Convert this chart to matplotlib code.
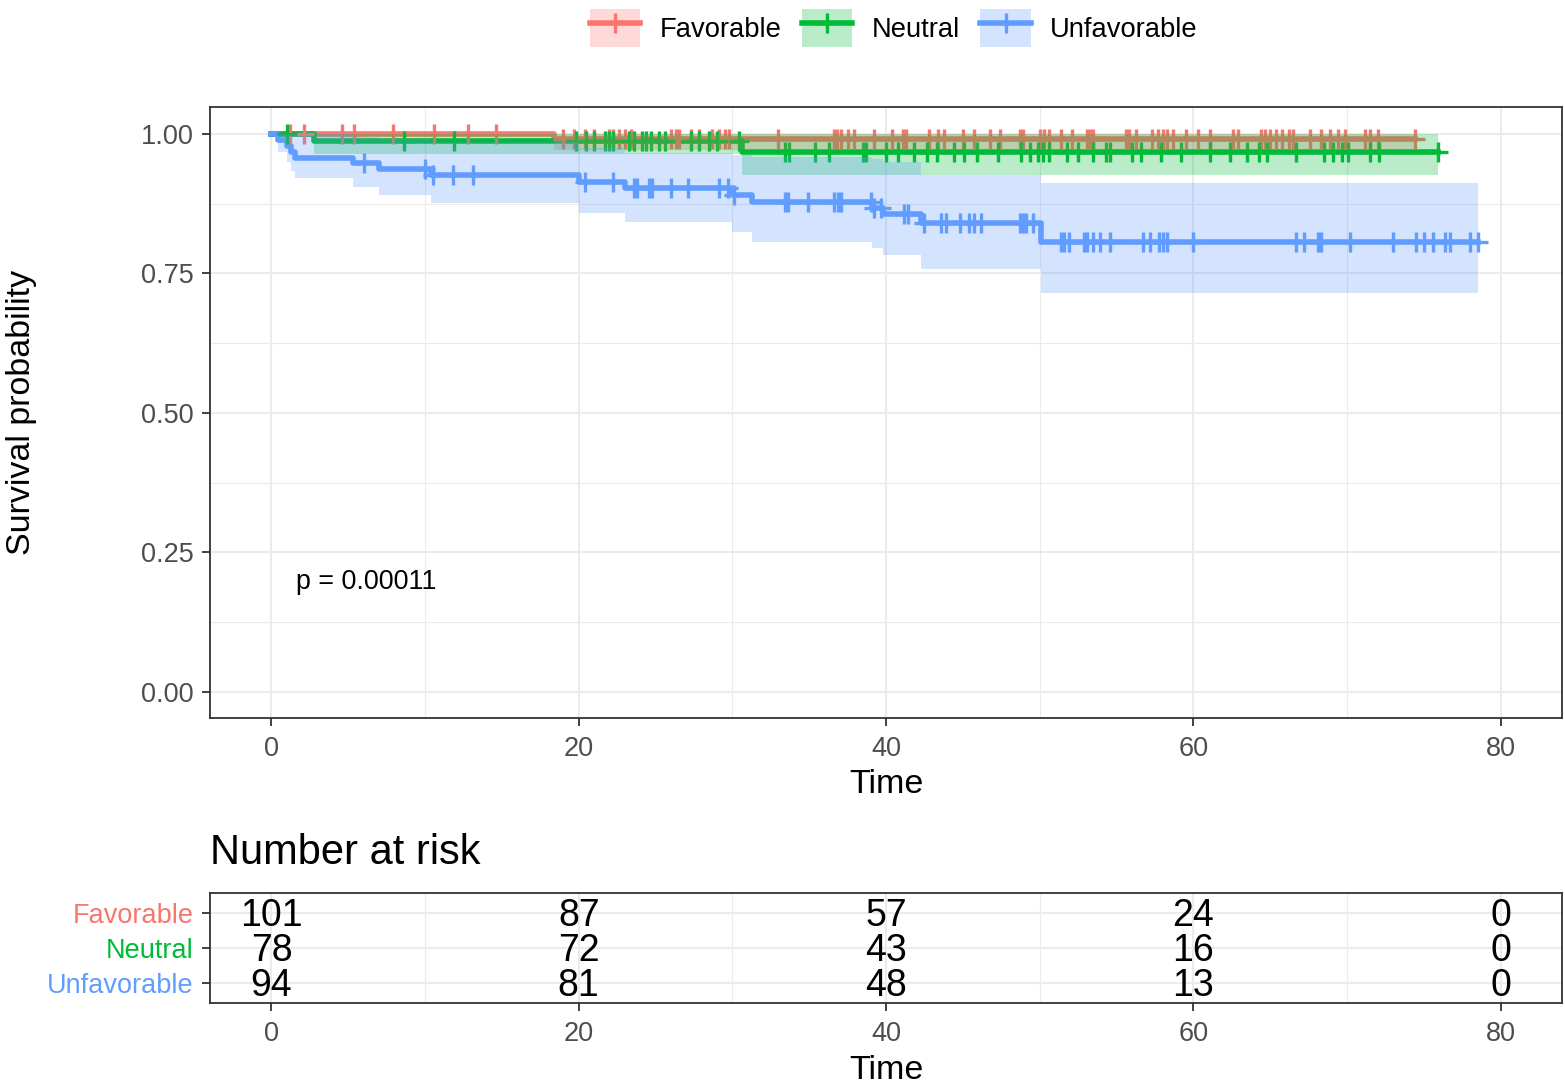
import numpy as np
import matplotlib
matplotlib.use("Agg")
import matplotlib.pyplot as plt
import matplotlib.transforms as mtransforms
from matplotlib.patches import Patch
from matplotlib.lines import Line2D
from matplotlib.legend_handler import HandlerTuple

plt.rcParams['font.family'] = ['Liberation Sans', 'DejaVu Sans']

groups = ["Favorable", "Neutral", "Unfavorable"]
colors = ["#F8766D", "#00BA38", "#619CFF"]

# step curves (time of each step, survival after it, CI bounds)
fav_t = [0, 18.4, 74.4]
fav_s = [1.0, 0.990, 0.990]
fav_lo = [1.0, 0.971, 0.971]
fav_hi = [1.0, 1.0, 1.0]

neu_t = [0, 2.8, 30.6, 75.9]
neu_s = [1.0, 0.987, 0.968, 0.968]
neu_lo = [1.0, 0.964, 0.927, 0.927]
neu_hi = [1.0, 1.0, 1.0, 1.0]

unf_t = [0, 0.4, 1.0, 1.3, 1.5, 5.3, 7.0, 10.4, 20.0, 23.0, 30.0, 31.3,
         39.1, 39.8, 42.3, 50.1, 78.5]
unf_s = [1.0, 0.989, 0.979, 0.968, 0.957, 0.947, 0.936, 0.926, 0.914, 0.903,
         0.891, 0.877, 0.867, 0.857, 0.840, 0.806, 0.806]
unf_lo = [1.0, 0.968, 0.950, 0.934, 0.921, 0.905, 0.891, 0.876, 0.858, 0.842,
          0.824, 0.806, 0.795, 0.783, 0.758, 0.715, 0.715]
unf_hi = [1.0, 1.0, 1.0, 1.0, 0.999, 0.995, 0.990, 0.985, 0.975, 0.966,
          0.962, 0.958, 0.954, 0.950, 0.927, 0.912, 0.912]

# censoring times
fav_cens = [1.2, 2.1, 4.6, 5.4, 7.9, 10.6, 12.8, 14.6, 19.0, 19.7, 20.4, 21.0,
            22.0, 22.2, 22.6, 23.0, 23.4, 26.0, 26.3, 26.5, 27.3, 27.8, 28.7,
            29.1, 29.5, 29.8, 33.0, 36.6, 36.8, 37.1, 37.5, 37.9, 39.2, 40.4,
            41.1, 41.3, 42.8, 43.4, 43.8, 45.0, 45.7, 46.8, 47.4, 48.7, 48.9,
            50.0, 50.3, 50.6, 51.4, 52.1, 53.1, 53.3, 53.5, 55.6, 55.8, 56.3,
            57.3, 57.7, 58.0, 58.3, 58.7, 59.5, 60.3, 61.1, 62.6, 62.9, 64.4,
            64.7, 65.0, 65.4, 65.8, 66.2, 66.5, 67.6, 68.3, 68.9, 69.4, 69.9,
            71.2, 71.5, 72.0, 74.4]
neu_cens = [1.0, 8.6, 11.9, 19.8, 20.5, 21.0, 21.7, 22.0, 22.2, 23.3, 23.6,
            24.1, 24.4, 24.7, 25.2, 25.6, 27.3, 27.8, 28.5, 29.0, 30.4, 33.4,
            33.7, 35.4, 36.3, 38.5, 38.7, 40.0, 40.8, 41.8, 42.7, 43.3, 44.4,
            45.1, 45.9, 47.3, 48.8, 49.4, 49.9, 50.2, 50.6, 51.8, 52.5, 53.5,
            54.3, 54.6, 56.0, 56.6, 57.9, 59.2, 61.1, 62.4, 63.5, 64.3, 64.8,
            66.7, 68.5, 69.1, 69.7, 70.1, 71.5, 72.1, 75.9]
unf_cens = [6.0, 10.0, 10.5, 11.8, 13.1, 20.4, 22.2, 23.6, 23.8, 24.6, 24.8,
            26.0, 27.1, 29.1, 29.7, 30.1, 33.4, 33.6, 34.9, 36.6, 36.9, 37.1,
            39.0, 39.2, 39.7, 41.2, 41.4, 42.5, 43.6, 43.9, 44.8, 45.4, 45.7,
            46.2, 48.7, 48.9, 49.1, 49.6, 51.4, 51.6, 51.9, 52.9, 53.1, 53.5,
            53.9, 54.6, 56.7, 57.2, 57.8, 58.0, 58.3, 60.0, 66.7, 67.2, 68.1,
            68.3, 70.2, 73.0, 74.5, 75.0, 75.6, 76.4, 76.7, 78.0, 78.5]

risk_times = [0, 20, 40, 60, 80]
fav_risk = [101, 87, 57, 24, 0]
neu_risk = [78, 72, 43, 16, 0]
unf_risk = [94, 81, 48, 13, 0]

curves = [
    (fav_t, fav_s, fav_lo, fav_hi, fav_cens),
    (neu_t, neu_s, neu_lo, neu_hi, neu_cens),
    (unf_t, unf_s, unf_lo, unf_hi, unf_cens),
]
risks = [fav_risk, neu_risk, unf_risk]

W, H = 1565, 1084
fig = plt.figure(figsize=(W / 100, H / 100), dpi=100)
ax = fig.add_axes([210 / W, 1 - 718 / H, 1352 / W, 611 / H])
axr = fig.add_axes([210 / W, 1 - 1003 / H, 1352 / W, 110 / H])

grid_col = "#EBEBEB"
tick_col = "#4D4D4D"
alpha = 0.27
lw = 4.0

for a in (ax, axr):
    for s in a.spines.values():
        s.set_color("#333333")
        s.set_linewidth(1.3)
    a.set_axisbelow(True)
    a.tick_params(which="major", length=6, width=1.3, color="#333333",
                  labelsize=19.5, labelcolor=tick_col)
    a.tick_params(axis="x", pad=7)
    a.tick_params(axis="y", pad=6)
    a.tick_params(which="minor", length=0)
    a.set_xlim(-4, 84)
    a.set_xticks([0, 20, 40, 60, 80])
    a.set_xticks([10, 30, 50, 70], minor=True)
    a.grid(which="major", color=grid_col, lw=1.5)
    a.grid(which="minor", color=grid_col, lw=0.8)

# curves
for (t, s, lo, hi, cens), col in zip(curves, colors):
    ax.step(t, s, where="post", color=col, lw=lw, zorder=3)
    ci = np.searchsorted(t, cens, side="right") - 1
    ax.plot(cens, np.array(s)[ci], ls="none", marker="+", ms=14, mew=2.4,
            color=col, zorder=4)
for (t, s, lo, hi, cens), col in zip(curves, colors):
    ax.fill_between(t, lo, hi, step="post", color=col, alpha=alpha, lw=0,
                    zorder=5)

ax.set_ylim(-0.047, 1.048)
ax.set_yticks([0, 0.25, 0.5, 0.75, 1.0])
ax.set_yticklabels(["0.00", "0.25", "0.50", "0.75", "1.00"])
ax.set_yticks([0.125, 0.375, 0.625, 0.875], minor=True)
ax.set_xlabel("Time", fontsize=24.5)
ax.xaxis.set_label_coords(0.5, -0.083)
ax.set_ylabel("Survival probability", fontsize=24.5)
ax.yaxis.set_label_coords(-0.128, 0.5)
ax.text(1.6, 0.197, "p = 0.00011", fontsize=19.4, va="center", ha="left")

# legend
handles = []
for col in colors:
    handles.append((Patch(facecolor=col, alpha=alpha, edgecolor="none"),
                    Line2D([], [], color=col, lw=lw, marker="+", ms=14,
                           mew=2.4)))
fig.legend(handles, groups, loc="upper center", bbox_to_anchor=(0.571, 1.014),
           ncol=3, frameon=False, fontsize=19.7,
           handler_map={tuple: HandlerTuple(ndivide=1)},
           handlelength=1.85, handleheight=1.75, handletextpad=0.7,
           columnspacing=0.75)

# risk table
rows = [3, 2, 1]
shift = mtransforms.offset_copy(axr.transData, fig=fig, x=0, y=-3,
                                units="dots")
for row, vals in zip(rows, risks):
    for t, v in zip(risk_times, vals):
        axr.text(t, row, str(v), ha="center", va="center", fontsize=27,
                 color="black", transform=shift)
axr.set_ylim(0.43, 3.57)
axr.set_yticks(rows)
axr.set_yticklabels(groups)
for lab, col in zip(axr.get_yticklabels(), colors):
    lab.set_color(col)
axr.set_xlabel("Time", fontsize=24.5)
axr.xaxis.set_label_coords(0.5, -0.47)
fig.text(210 / W, 1 - 853 / H, "Number at risk", fontsize=30, va="center",
         ha="left")

fig.savefig("out.png", dpi=100)
